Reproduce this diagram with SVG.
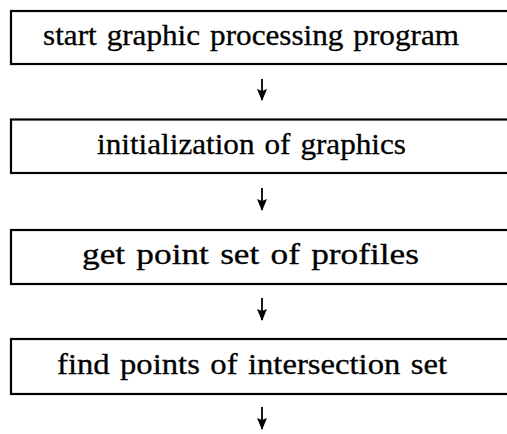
<svg xmlns="http://www.w3.org/2000/svg" width="507" height="434" viewBox="0 0 507 434">
  <style>
    .box { fill: #fff; stroke: #000; stroke-width: 2.2; }
    .label { font-family: "Liberation Serif", "DejaVu Serif", serif; font-size: 29px; word-spacing: 2px; fill: #000; stroke: #000; stroke-width: 0.3; text-anchor: middle; }
    .flow { stroke: #000; stroke-width: 1.8; fill: none; }
  </style>
  <defs>
    <!-- filled arrowhead, drawn along +x so orient="auto" points it down the line -->
    <marker id="head" markerWidth="12" markerHeight="10" refX="11" refY="5" orient="auto" markerUnits="userSpaceOnUse" viewBox="0 0 12 10">
      <path d="M0,0 L2,5 L0,10 L12,5 Z" fill="#000"/>
    </marker>
  </defs>
  <rect width="507" height="434" fill="#fff"/>

  <g id="step-start">
    <rect class="box" x="11" y="11" width="510" height="53"/>
    <text class="label" x="251" y="44.5" textLength="416" lengthAdjust="spacingAndGlyphs">start graphic processing program</text>
  </g>
  <g id="step-init">
    <rect class="box" x="11" y="119.5" width="510" height="53.5"/>
    <text class="label" x="251.5" y="153.5" textLength="309" lengthAdjust="spacingAndGlyphs">initialization of graphics</text>
  </g>
  <g id="step-points">
    <rect class="box" x="11" y="230" width="510" height="54"/>
    <text class="label" x="250.5" y="263.5" textLength="337" lengthAdjust="spacingAndGlyphs">get point set of profiles</text>
  </g>
  <g id="step-intersect">
    <rect class="box" x="11" y="339" width="510" height="55"/>
    <text class="label" x="252" y="373.5" textLength="390" lengthAdjust="spacingAndGlyphs">find points of intersection set</text>
  </g>

  <g id="connectors">
    <line class="flow" x1="262" y1="79" x2="262" y2="100" marker-end="url(#head)"/>
    <line class="flow" x1="262" y1="188" x2="262" y2="210" marker-end="url(#head)"/>
    <line class="flow" x1="262" y1="298" x2="262" y2="320" marker-end="url(#head)"/>
    <line class="flow" x1="262" y1="407" x2="262" y2="429" marker-end="url(#head)"/>
  </g>
</svg>
